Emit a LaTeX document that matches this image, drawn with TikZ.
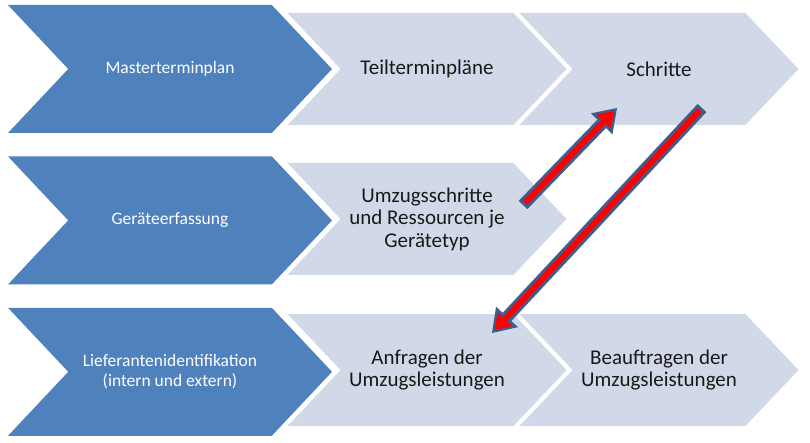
\documentclass[tikz,border=0pt]{standalone}
\usepackage{fontspec}
\setmainfont{Carlito}
\usepackage{tikz}
\usetikzlibrary{positioning, arrows.meta, shapes.symbols}
\definecolor{darkchev}{HTML}{4F81BD}
\definecolor{lightchev}{HTML}{D1D9E8}
\definecolor{arrowedge}{HTML}{3E5F8E}

\begin{document}
\begin{tikzpicture}[x=1pt, y=-1pt, node distance=23pt,
  chev/.style={signal, signal from=west, signal to=east, inner sep=0pt, align=center},
  darkstep/.style={chev, fill=darkchev, text=white, minimum width=324pt, minimum height=128pt,
    signal pointer angle=93.5, font=\fontsize{17.5}{20}\selectfont},
  lightstep/.style={chev, fill=lightchev, text=black!90, minimum width=279pt, minimum height=112pt,
    signal pointer angle=93, font=\fontsize{21}{22.5}\selectfont},
  bigarrow/.style={line width=12pt, arrowedge, -{Triangle[length=22pt, width=30pt, line width=0pt]}},
  arrowcore/.style={line width=6pt, red, shorten <=3pt, shorten >=4pt,
    -{Triangle[length=15pt, width=20pt, line width=0pt]}}]
\useasboundingbox (0,0) rectangle (810,443);
% left column
\node[darkstep] (master) at (170,69) {Masterterminplan};
\node[darkstep, below=of master] (geraete) {Geräteerfassung};
\node[darkstep, below=of geraete] (liefer) {Lieferantenidentifikation\\(intern und extern)};
% right side
\node[lightstep] (teil) at (427,69) {Teilterminpläne};
\node[lightstep] (schritte) at (659,69) {Schritte};
\node[lightstep] (umzug) at (427,219) {Umzugsschritte\\und Ressourcen je\\Gerätetyp};
\node[lightstep] (anfragen) at (427,370) {Anfragen der\\Umzugsleistungen};
\node[lightstep] (beauftragen) at (659,370) {Beauftragen der\\Umzugsleistungen};
% red arrows
\coordinate (upfrom) at (523,205);
\coordinate (upto) at (617,108);
\coordinate (downfrom) at (702,108);
\coordinate (downto) at (492,333);
\draw[bigarrow] (upfrom) -- (upto);
\draw[arrowcore] (upfrom) -- (upto);
\draw[bigarrow] (downfrom) -- (downto);
\draw[arrowcore] (downfrom) -- (downto);
\end{tikzpicture}
\end{document}
